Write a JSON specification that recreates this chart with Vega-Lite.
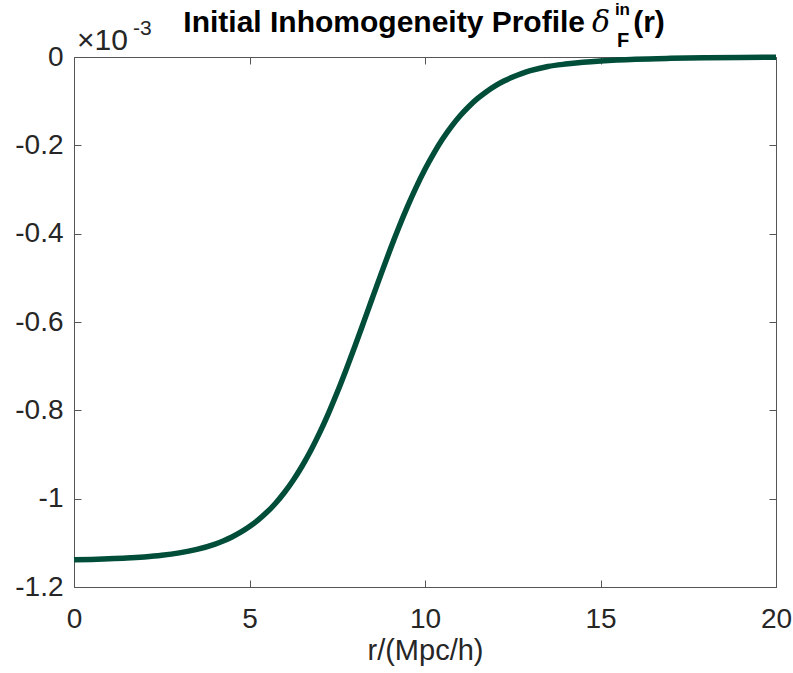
{
  "$schema": "https://vega.github.io/schema/vega-lite/v6.json",
  "width": 702,
  "height": 530,
  "autosize": "none",
  "padding": {"left": 74, "top": 57, "right": 17, "bottom": 86},
  "background": "white",
  "config": {
    "view": {"stroke": null},
    "font": "Liberation Sans",
    "axis": {
      "domainColor": "#555555",
      "tickColor": "#555555",
      "domainWidth": 1,
      "tickWidth": 1,
      "tickSize": -7,
      "grid": false,
      "labelFont": "Liberation Sans",
      "labelFontSize": 28,
      "labelColor": "#262626",
      "titleFont": "Liberation Sans",
      "titleFontSize": 29,
      "titleFontWeight": "normal",
      "titleColor": "#262626"
    }
  },
  "data": {
    "values": [
      {"r": 0, "delta": -1.1383},
      {"r": 0.5, "delta": -1.1375},
      {"r": 1, "delta": -1.1363},
      {"r": 1.5, "delta": -1.1346},
      {"r": 2, "delta": -1.132},
      {"r": 2.5, "delta": -1.1283},
      {"r": 3, "delta": -1.1228},
      {"r": 3.5, "delta": -1.1148},
      {"r": 4, "delta": -1.1033},
      {"r": 4.25, "delta": -1.0957},
      {"r": 4.5, "delta": -1.0868},
      {"r": 4.75, "delta": -1.076},
      {"r": 5, "delta": -1.0632},
      {"r": 5.25, "delta": -1.0481},
      {"r": 5.5, "delta": -1.0304},
      {"r": 5.75, "delta": -1.0097},
      {"r": 6, "delta": -0.9855},
      {"r": 6.25, "delta": -0.9577},
      {"r": 6.5, "delta": -0.926},
      {"r": 6.75, "delta": -0.8903},
      {"r": 7, "delta": -0.8505},
      {"r": 7.25, "delta": -0.8067},
      {"r": 7.5, "delta": -0.7592},
      {"r": 7.75, "delta": -0.7085},
      {"r": 8, "delta": -0.6555},
      {"r": 8.25, "delta": -0.6009},
      {"r": 8.5, "delta": -0.5457},
      {"r": 8.75, "delta": -0.491},
      {"r": 9, "delta": -0.4376},
      {"r": 9.25, "delta": -0.3867},
      {"r": 9.5, "delta": -0.3389},
      {"r": 9.75, "delta": -0.2946},
      {"r": 10, "delta": -0.2542},
      {"r": 10.25, "delta": -0.2181},
      {"r": 10.5, "delta": -0.1859},
      {"r": 10.75, "delta": -0.1577},
      {"r": 11, "delta": -0.1331},
      {"r": 11.25, "delta": -0.112},
      {"r": 11.5, "delta": -0.0939},
      {"r": 11.75, "delta": -0.0785},
      {"r": 12, "delta": -0.0654},
      {"r": 12.25, "delta": -0.0545},
      {"r": 12.5, "delta": -0.0453},
      {"r": 12.75, "delta": -0.0375},
      {"r": 13, "delta": -0.0311},
      {"r": 13.5, "delta": -0.0215},
      {"r": 14, "delta": -0.016},
      {"r": 14.5, "delta": -0.012},
      {"r": 15, "delta": -0.009},
      {"r": 16, "delta": -0.005},
      {"r": 17, "delta": -0.003},
      {"r": 18, "delta": -0.0018},
      {"r": 19, "delta": -0.001},
      {"r": 20, "delta": -0.0005}
    ]
  },
  "layer": [
    {
      "mark": {"type": "line", "color": "#004d39", "strokeWidth": 5.5, "interpolate": "monotone"},
      "encoding": {
        "x": {
          "field": "r",
          "type": "quantitative",
          "scale": {"domain": [0, 20], "nice": false},
          "axis": {
            "orient": "bottom",
            "values": [0, 5, 10, 15, 20],
            "title": "r/(Mpc/h)",
            "labelFlush": false,
            "labelPadding": 25,
            "titlePadding": 3
          }
        },
        "y": {
          "field": "delta",
          "type": "quantitative",
          "scale": {"domain": [-1.2, 0], "nice": false, "zero": false},
          "axis": {
            "orient": "left",
            "values": [-1.2, -1, -0.8, -0.6, -0.4, -0.2, 0],
            "title": null,
            "labelPadding": 18,
            "labelExpr": "replace(format(datum.value, '.1~f'), '−', '-')"
          }
        }
      }
    },
    {
      "mark": {"type": "line", "strokeOpacity": 0},
      "encoding": {
        "x": {
          "field": "r",
          "type": "quantitative",
          "scale": {"domain": [0, 20], "nice": false},
          "axis": {"orient": "top", "values": [0, 5, 10, 15, 20], "labels": false, "title": null}
        },
        "y": {
          "field": "delta",
          "type": "quantitative",
          "scale": {"domain": [-1.2, 0], "nice": false, "zero": false},
          "axis": {"orient": "right", "values": [-1.2, -1, -0.8, -0.6, -0.4, -0.2, 0], "labels": false, "title": null}
        }
      }
    },
    {
      "data": {"values": [{}]},
      "mark": {"type": "text", "text": "Initial Inhomogeneity Profile", "font": "Liberation Sans", "fontWeight": "bold", "fontSize": 30, "align": "right", "baseline": "alphabetic", "color": "#000000"},
      "encoding": {
        "x": {"datum": 14.56, "type": "quantitative", "scale": {"domain": [0, 20], "nice": false}, "axis": null},
        "y": {"datum": 0.0566, "type": "quantitative", "scale": {"domain": [-1.2, 0], "nice": false, "zero": false}, "axis": null}
      }
    },
    {
      "data": {"values": [{}]},
      "mark": {"type": "text", "text": "δ", "font": "DejaVu Serif", "fontStyle": "italic", "fontSize": 30, "align": "left", "baseline": "alphabetic", "color": "#000000"},
      "encoding": {
        "x": {"datum": 14.76, "type": "quantitative", "scale": {"domain": [0, 20], "nice": false}, "axis": null},
        "y": {"datum": 0.0566, "type": "quantitative", "scale": {"domain": [-1.2, 0], "nice": false, "zero": false}, "axis": null}
      }
    },
    {
      "data": {"values": [{}]},
      "mark": {"type": "text", "text": "in", "font": "Liberation Sans", "fontWeight": "bold", "fontSize": 17, "align": "left", "baseline": "alphabetic", "color": "#000000"},
      "encoding": {
        "x": {"datum": 15.41, "type": "quantitative", "scale": {"domain": [0, 20], "nice": false}, "axis": null},
        "y": {"datum": 0.0955, "type": "quantitative", "scale": {"domain": [-1.2, 0], "nice": false, "zero": false}, "axis": null}
      }
    },
    {
      "data": {"values": [{}]},
      "mark": {"type": "text", "text": "F", "font": "Liberation Sans", "fontWeight": "bold", "fontSize": 20, "align": "left", "baseline": "alphabetic", "color": "#000000"},
      "encoding": {
        "x": {"datum": 15.47, "type": "quantitative", "scale": {"domain": [0, 20], "nice": false}, "axis": null},
        "y": {"datum": 0.0227, "type": "quantitative", "scale": {"domain": [-1.2, 0], "nice": false, "zero": false}, "axis": null}
      }
    },
    {
      "data": {"values": [{}]},
      "mark": {"type": "text", "text": "(r)", "font": "Liberation Sans", "fontWeight": "bold", "fontSize": 30, "align": "left", "baseline": "alphabetic", "color": "#000000"},
      "encoding": {
        "x": {"datum": 15.93, "type": "quantitative", "scale": {"domain": [0, 20], "nice": false}, "axis": null},
        "y": {"datum": 0.0566, "type": "quantitative", "scale": {"domain": [-1.2, 0], "nice": false, "zero": false}, "axis": null}
      }
    },
    {
      "data": {"values": [{}]},
      "mark": {"type": "text", "text": "×10", "font": "Liberation Sans", "fontSize": 30, "align": "left", "baseline": "alphabetic", "color": "#262626"},
      "encoding": {
        "x": {"datum": 0.085, "type": "quantitative", "scale": {"domain": [0, 20], "nice": false}, "axis": null},
        "y": {"datum": 0.0159, "type": "quantitative", "scale": {"domain": [-1.2, 0], "nice": false, "zero": false}, "axis": null}
      }
    },
    {
      "data": {"values": [{}]},
      "mark": {"type": "text", "text": "-3", "font": "Liberation Sans", "fontSize": 21, "align": "left", "baseline": "alphabetic", "color": "#262626"},
      "encoding": {
        "x": {"datum": 1.68, "type": "quantitative", "scale": {"domain": [0, 20], "nice": false}, "axis": null},
        "y": {"datum": 0.0498, "type": "quantitative", "scale": {"domain": [-1.2, 0], "nice": false, "zero": false}, "axis": null}
      }
    }
  ],
  "resolve": {"axis": {"x": "independent", "y": "independent"}}
}
